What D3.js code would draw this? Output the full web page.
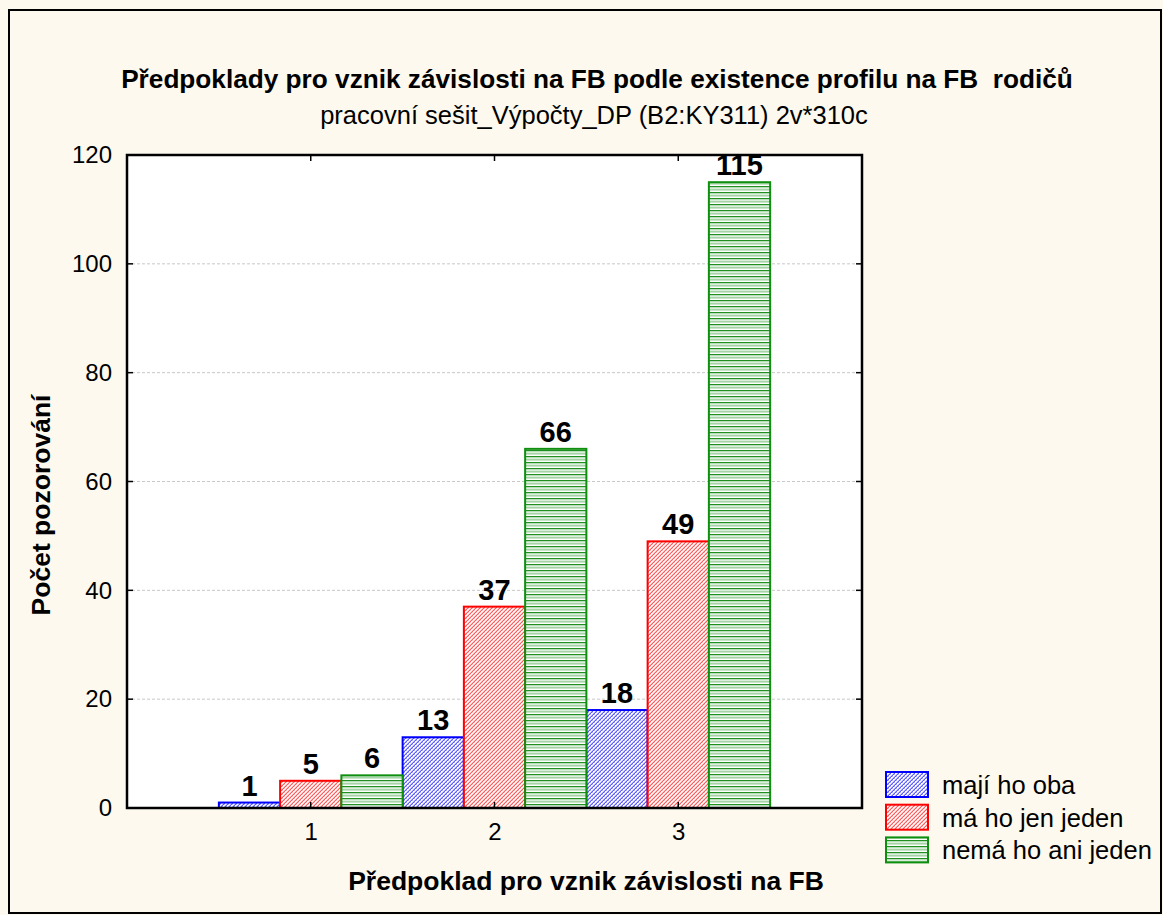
<!DOCTYPE html>
<html><head><meta charset="utf-8">
<script src="https://cdn.jsdelivr.net/npm/d3@7"></script>
<style>body{margin:0;background:#fff}svg{display:block}text{font-family:"Liberation Sans",Arial,sans-serif}</style>
</head><body>
<svg id="c" width="1163" height="915"></svg>
<script>
const categories = ["1","2","3"];
const seriesNames = ["mají ho oba","má ho jen jeden","nemá ho ani jeden"];
const majiHoOba = [1,13,18];
const maHoJenJeden = [5,37,49];
const nemaHoAniJeden = [6,66,115];
const yTicks = [0,20,40,60,80,100,120];
const series = [majiHoOba, maHoJenJeden, nemaHoAniJeden];
const colors = ["#0000ff","#ff0000","#0f8f0f"];

const svg = d3.select("#c");
const defs = svg.append("defs");
function diagPattern(id, dark, light){
  const p = defs.append("pattern").attr("id",id).attr("patternUnits","userSpaceOnUse").attr("width",4).attr("height",4);
  p.append("rect").attr("width",4).attr("height",4).attr("fill","#fff");
  for(let x=0;x<4;x++){for(let y=0;y<4;y++){
    const s=(x+y)%4;
    if(s===3) p.append("rect").attr("x",x).attr("y",y).attr("width",1).attr("height",1).attr("fill",dark);
    else if(s===2) p.append("rect").attr("x",x).attr("y",y).attr("width",1).attr("height",1).attr("fill",light);
    else if(s===0 && (x%2===0)) p.append("rect").attr("x",x).attr("y",y).attr("width",1).attr("height",1).attr("fill",light);
  }}
}
diagPattern("pBlue","#5a5aff","#b4b4ff");
diagPattern("pRed","#ff5a5a","#ffbcbc");
{
  const p = defs.append("pattern").attr("id","pGreen").attr("patternUnits","userSpaceOnUse").attr("width",6).attr("height",6);
  p.append("rect").attr("width",6).attr("height",6).attr("fill","#fff");
  p.append("rect").attr("y",0).attr("width",6).attr("height",1.3).attr("fill","#1f8f1f");
  p.append("rect").attr("y",2.6).attr("width",6).attr("height",2).attr("fill","#a6d4a6");
}
const fills = ["url(#pBlue)","url(#pRed)","url(#pGreen)"];

svg.append("rect").attr("width",1163).attr("height",915).attr("fill","#fdf9ef");
svg.append("rect").attr("x",9).attr("y",10).attr("width",1152).attr("height",903).attr("fill","none").attr("stroke","#000").attr("stroke-width",2);

const L=127, R=862, T=155, B=808;
const x = d3.scaleLinear().domain([0,4]).range([L,R]);
const y = d3.scaleLinear().domain([0,120]).range([B,T]);

svg.append("rect").attr("x",L).attr("y",T).attr("width",R-L).attr("height",B-T).attr("fill","#fff");

svg.append("g").selectAll("line").data(yTicks.filter(d=>d>0&&d<120)).join("line")
  .attr("x1",L).attr("x2",R).attr("y1",d=>y(d)).attr("y2",d=>y(d))
  .attr("stroke","#c8c8c8").attr("stroke-width",1).attr("stroke-dasharray","3,2");

const bw = (x(1)-x(0))/3;
series.forEach((vals,si)=>{
  const g = svg.append("g");
  g.selectAll("rect").data(vals).join("rect")
    .attr("x",(d,i)=>x(i+1)-1.5*bw+si*bw)
    .attr("y",d=>y(d))
    .attr("width",bw)
    .attr("height",d=>y(0)-y(d))
    .attr("fill",fills[si]).attr("stroke",colors[si]).attr("stroke-width",2);
  g.selectAll("text").data(vals).join("text")
    .attr("x",(d,i)=>x(i+1)-1.5*bw+si*bw+bw/2)
    .attr("y",d=>y(d)-7)
    .attr("text-anchor","middle").attr("font-weight","bold").attr("font-size",29)
    .attr("fill","#000").text(d=>d);
});

const yAxisL = d3.axisLeft(y).tickValues(yTicks).tickSize(0).tickPadding(15);
const gy = svg.append("g").attr("transform",`translate(${L},0)`).call(yAxisL);
gy.select(".domain").remove();
gy.selectAll("text").attr("font-size",24).attr("fill","#000").style("font-family","Liberation Sans, Arial, sans-serif");

const xAxisB = d3.axisBottom(x).tickValues([1,2,3]).tickFormat((d,i)=>categories[i]).tickSize(0).tickPadding(15);
const gx = svg.append("g").attr("transform",`translate(0,${B})`).call(xAxisB);
gx.select(".domain").remove();
gx.selectAll("text").attr("font-size",24).attr("fill","#000").style("font-family","Liberation Sans, Arial, sans-serif");

const tk = svg.append("g").attr("stroke","#000").attr("stroke-width",1.5);
[1,2,3].forEach(v=>{
  tk.append("line").attr("x1",x(v)).attr("x2",x(v)).attr("y1",B).attr("y2",B-6);
  tk.append("line").attr("x1",x(v)).attr("x2",x(v)).attr("y1",T).attr("y2",T+6);
});
yTicks.forEach(v=>{
  tk.append("line").attr("x1",L).attr("x2",L+6).attr("y1",y(v)).attr("y2",y(v));
  tk.append("line").attr("x1",R).attr("x2",R-6).attr("y1",y(v)).attr("y2",y(v));
});

svg.append("rect").attr("x",L).attr("y",T).attr("width",R-L).attr("height",B-T).attr("fill","none").attr("stroke","#000").attr("stroke-width",2.5);

svg.append("text").attr("x",597).attr("y",88).attr("text-anchor","middle").attr("font-weight","bold").attr("font-size",26.2)
  .attr("xml:space","preserve").text("Předpoklady pro vznik závislosti na FB podle existence profilu na FB  rodičů");
svg.append("text").attr("x",594).attr("y",124).attr("text-anchor","middle").attr("font-size",25.5)
  .text("pracovní sešit_Výpočty_DP (B2:KY311) 2v*310c");
svg.append("text").attr("x",586).attr("y",890).attr("text-anchor","middle").attr("font-weight","bold").attr("font-size",26.5)
  .text("Předpoklad pro vznik závislosti na FB");
svg.append("text").attr("transform",`translate(50,505) rotate(-90)`).attr("text-anchor","middle").attr("font-weight","bold").attr("font-size",26.5)
  .text("Počet pozorování");

const lg = svg.append("g");
seriesNames.forEach((n,i)=>{
  const yy = 772 + i*32.7;
  lg.append("rect").attr("x",886).attr("y",yy).attr("width",42).attr("height",25).attr("fill",fills[i]).attr("stroke",colors[i]).attr("stroke-width",2);
  lg.append("text").attr("x",942).attr("y",yy+22).attr("font-size",25.5).text(n);
});
</script>
</body></html>
